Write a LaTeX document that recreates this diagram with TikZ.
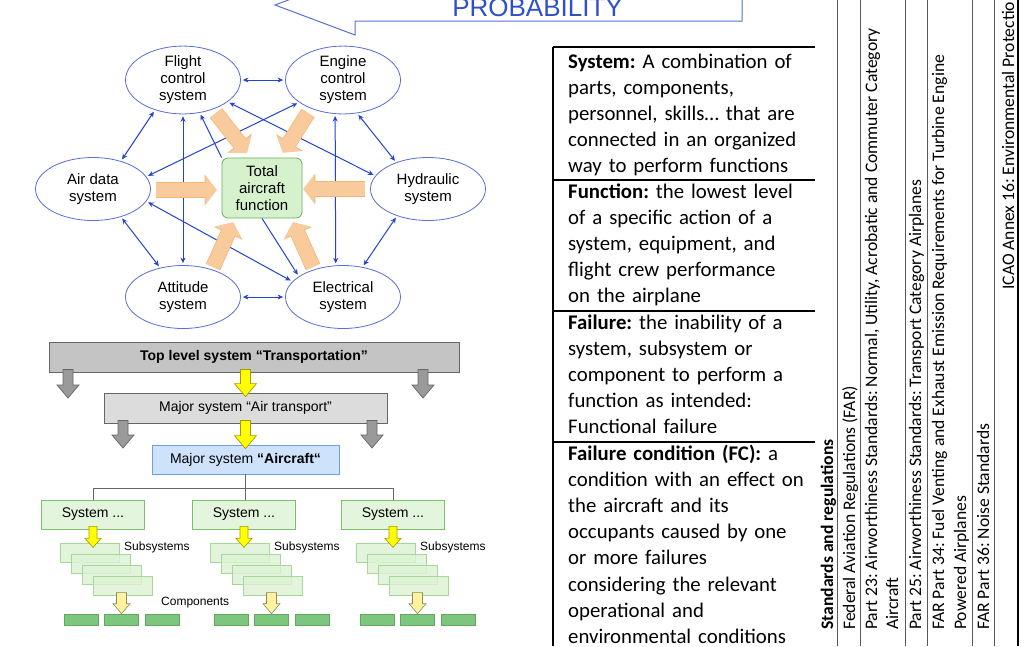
\documentclass[tikz,border=0pt]{standalone}
\usepackage{fontspec}
\setmainfont{Liberation Sans}
\newfontfamily\calibrifont{Carlito}
\usetikzlibrary{arrows.meta,positioning,calc,shapes.geometric}
\definecolor{SysBlue}{HTML}{2443D0}
\definecolor{EllBlue}{HTML}{5A6FD6}
\definecolor{TitleBlue}{HTML}{2F50C8}
\definecolor{FatOrange}{HTML}{F9CB9C}
\definecolor{FatEdge}{HTML}{F2B878}
\definecolor{TotGreen}{HTML}{D6F2CD}
\definecolor{TotEdge}{HTML}{6AAE5C}
\definecolor{BoxGreen}{HTML}{E4F5DE}
\definecolor{BoxEdge}{HTML}{7CC06C}
\definecolor{SubGreen}{HTML}{DDF2D5}
\definecolor{SubEdge}{HTML}{A6D898}
\definecolor{CompGreen}{HTML}{7DC67D}
\definecolor{CompEdge}{HTML}{62A862}
\definecolor{TopGray}{HTML}{C4C4C4}
\definecolor{MidGray}{HTML}{DCDCDC}
\definecolor{EdgeGray}{HTML}{666666}
\definecolor{ArrGray}{HTML}{9A9A9A}
\definecolor{AcBlue}{HTML}{CFE2FB}
\definecolor{AcEdge}{HTML}{6D9EEB}
\definecolor{Yel}{HTML}{FFFF00}
\definecolor{YelEdge}{HTML}{A89A00}
\definecolor{PaleYel}{HTML}{FFF3A0}
\definecolor{PaleEdge}{HTML}{8C8C5A}

\begin{document}
\begin{tikzpicture}[x=1pt,y=-1pt,
    >={Stealth[length=5.5pt,width=5pt]},
    sysell/.style={ellipse,draw=EllBlue,line width=0.8pt,minimum width=115pt,minimum height=63pt,
                   inner sep=0pt,align=center,font=\fontsize{15}{17}\selectfont},
    totbox/.style={draw=TotEdge,fill=TotGreen,rounded corners=6pt,line width=0.8pt,minimum width=80pt,
                   minimum height=60pt,inner sep=0pt,align=center,font=\fontsize{15}{17}\selectfont},
    link/.style={<->,draw=SysBlue,line width=1pt,shorten <=2pt,shorten >=2pt},
    onelink/.style={->,draw=SysBlue,line width=1pt,shorten >=2pt},
    fat/.style={-{Triangle[length=11pt,width=28pt]},draw=FatOrange,line width=14pt,
                preaction={draw=FatEdge,line width=15.6pt,-{Triangle[length=12pt,width=30.5pt]}}},
    lvlbox/.style={draw=EdgeGray,line width=0.8pt,minimum height=30pt,inner sep=0pt,font=\fontsize{14}{16}\selectfont},
    sysbox/.style={draw=BoxEdge,fill=BoxGreen,line width=0.8pt,minimum width=103pt,minimum height=29pt,
                   inner sep=0pt,font=\fontsize{14}{16}\selectfont},
    subbox/.style={draw=SubEdge,fill=SubGreen,fill opacity=0.8,line width=0.7pt,minimum width=59pt,
                   minimum height=18.5pt,inner sep=0pt},
    comp/.style={draw=CompEdge,fill=CompGreen,line width=0.6pt,minimum width=34pt,minimum height=11pt,inner sep=0pt},
    lbl/.style={anchor=west,inner sep=0pt,font=\fontsize{12}{14}\selectfont},
    tree/.style={draw=EdgeGray,line width=0.9pt},
    blockdown/.style n args={4}{to path={let \p1=(\tikztostart),\p2=(\tikztotarget) in
        (\x2-#1,\y1+3pt) -- (\x2+#1,\y1+3pt) -- (\x2+#1,\y2-#4+#3) -- (\x2+#2,\y2-#4+#3)
        -- (\x2,\y2-#4) -- (\x2-#2,\y2-#4+#3) -- (\x2-#1,\y2-#4+#3) -- cycle}},
    bigyel/.style={blockdown={5pt}{11pt}{13pt}{4pt},draw=YelEdge,fill=Yel,line width=0.7pt},
    biggray/.style={blockdown={5pt}{11pt}{13pt}{0pt},draw=EdgeGray,fill=ArrGray,line width=0.7pt},
    smallyel/.style={blockdown={4pt}{8pt}{9pt}{4pt},draw=YelEdge,fill=Yel,line width=0.6pt},
    paleyel/.style={blockdown={5pt}{8.5pt}{10pt}{0pt},draw=PaleEdge,fill=PaleYel,line width=0.6pt},
    deftext/.style={anchor=base west,inner sep=0pt,text width=260pt,align=left,
                    font=\calibrifont\fontsize{20.8}{26.2}\selectfont\frenchspacing},
    rule/.style={line width=1.3pt},
    rotrule/.style={draw=black!65,line width=0.8pt},
    rottext/.style={rotate=90,anchor=base west,inner sep=0pt,
                    font=\calibrifont\fontsize{17.6}{21}\selectfont\frenchspacing}
  ]
  \useasboundingbox (0,0) rectangle (1028,646);
  \clip (0,0) rectangle (1028,646);
  \fill[white] (0,0) rectangle (1028,646);

  % probability arrow
  \draw[TitleBlue!80,line width=1pt] (742,-11) -- (355,-11) -- (355,-25) -- (275,5) -- (355,35)
    -- (355,21) -- (742,21) -- cycle;
  \node[TitleBlue,anchor=base,inner sep=0pt,font=\fontsize{26}{26}\selectfont] (prob) at (537.5,16) {PROBABILITY};

  % system interaction diagram
  \node[sysell] (fcs) at (183,80) {Flight\\control\\system};
  \node[sysell] (ecs) at (343,80) {Engine\\control\\system};
  \node[sysell] (air) at (93,189) {Air data\\system};
  \node[sysell] (hyd) at (428,189) {Hydraulic\\system};
  \node[sysell] (att) at (183,297) {Attitude\\system};
  \node[sysell] (ele) at (343,297) {Electrical\\system};
  \node[totbox] (tot) at (262,188) {Total\\aircraft\\function};

  \draw[link] (fcs) -- (ecs);
  \draw[link] (att) -- (ele);
  \draw[link] (fcs.-133) -- (air.45);
  \draw[link] (air.-45) -- (att.128);
  \draw[link] (ecs.-67) -- (hyd.140);
  \draw[link] (hyd.-139) -- (ele.57);
  \draw[link] (fcs.south) -- (att.north);
  \draw[link] (ecs.-103) -- (ele.103);
  \draw[link] (fcs.-26) -- (hyd.166);
  \draw[link] (ecs.-153) -- (air.13);
  \draw[link] (air.-13) -- (ele.163);
  \draw[onelink] (tot.north west) -- (fcs.-63);
  \draw[onelink] (tot.south) -- (ele.155);

  \draw[fat] ($(fcs)+(33,33)$) -- ($(tot.north)+(-15,-5)$);
  \draw[fat] ($(ecs)+(-35,33)$) -- ($(tot.north)+(21,-5)$);
  \draw[fat] ($(air.east)+(5,1)$) -- ($(tot.west)+(-5,2)$);
  \draw[fat] ($(hyd.west)+(-5,0)$) -- ($(tot.east)+(1,1)$);
  \draw[fat] ($(att)+(30,-30)$) -- ($(tot.south)+(-29,4)$);
  \draw[fat] ($(ele)+(-30,-30)$) -- ($(tot.south)+(31,4)$);

  % system hierarchy
  \node[lvlbox,fill=TopGray,minimum width=410pt,font=\fontsize{14}{16}\selectfont\bfseries] (top) at (254,357)
    {Top level system “Transportation”};
  \node[lvlbox,fill=MidGray,minimum width=283pt] (airt) at (245.5,408) {Major system “Air transport”};
  \node[lvlbox,draw=AcEdge,fill=AcBlue,minimum width=187pt,minimum height=29pt] (ac) at (245.5,459.5)
    {Major system \textbf{“Aircraft“}};

  \coordinate (g1) at (68,398);
  \coordinate (g2) at (423,398);
  \coordinate (g3) at (123,448);
  \coordinate (g4) at (372,448);
  \draw[biggray] (top.south -| g1) to (g1);
  \draw[biggray] (top.south -| g2) to (g2);
  \draw[bigyel] (top.south) to (airt.north);
  \draw[biggray] (airt.south -| g3) to (g3);
  \draw[biggray] (airt.south -| g4) to (g4);
  \draw[bigyel] (airt.south) to (ac.north);

  \foreach \g/\gx/\sx in {1/0/93,2/150/244,3/296/393}{
    \node[sysbox] (s\g) at (\sx,514.5) {System ...};
    \foreach \i in {0,...,3}
      \node[subbox] (sub\g\i) at (89.5+\gx+11*\i,553+11*\i) {};
    \node[lbl] (sublbl\g) at (124+\gx,547) {Subsystems};
    \foreach \c/\cx in {1/81,2/121.5,3/162}
      \node[comp] (c\g\c) at (\cx+\gx,619.5) {};
    \draw[smallyel] (s\g.south) to (s\g.south |- sub\g0.north);
    \draw[paleyel] (sub\g3.south) to (c\g2.north);
  }
  \node[lbl] (complbl) at (161,603) {Components};

  \draw[tree] (ac.south) -- (ac.south |- s2.north);
  \draw[tree] (s1.north) -- ++(0,-11) -| (s3.north);

  % definitions table
  \draw[rule] (553,47) -- (553,646);
  \foreach \y in {47,180,311,442}
    \draw[rule] (553,\y) -- (815,\y);
  \node[deftext] (defsys) at (568,68) {\textbf{System:} A combination of\\parts, components,\\personnel, skills… that are\\connected in an organized\\way to perform functions};
  \node[deftext] (deffun) at (568,198) {\textbf{Function:} the lowest level\\of a specific action of a\\system, equipment, and\\flight crew performance\\on the airplane};
  \node[deftext] (deffail) at (568,329) {\textbf{Failure:} the inability of a\\system, subsystem or\\component to perform a\\function as intended:\\Functional failure};
  \node[deftext] (deffc) at (568,460) {\textbf{Failure condition (FC):} a\\condition with an effect on\\the aircraft and its\\occupants caused by one\\or more failures\\considering the relevant\\operational and\\environmental conditions};

  % standards table (rotated)
  \foreach \x in {837,860,905,927,972,994}
    \draw[rotrule] (\x,0) -- (\x,646);
  \draw[rule] (1018,0) -- (1018,646);
  \node[rottext] (stdhead) at (833,630) {\textbf{Standards and regulations}};
  \node[rottext] (far) at (855,630) {Federal Aviation Regulations (FAR)};
  \node[rottext] (p23a) at (877,630) {Part 23: Airworthiness Standards: Normal, Utility, Acrobatic and Commuter Category};
  \node[rottext] (p23b) at (898,630) {Aircraft};
  \node[rottext] (p25) at (921,630) {Part 25: Airworthiness Standards: Transport Category Airplanes};
  \node[rottext] (p34a) at (944,630) {FAR Part 34: Fuel Venting and Exhaust Emission Requirements for Turbine Engine};
  \node[rottext] (p34b) at (966,630) {Powered Airplanes};
  \node[rottext] (p36) at (989,630) {FAR Part 36: Noise Standards};
  \node[rottext] (icao) at (1014,290) {ICAO Annex 16: Environmental Protection};
\end{tikzpicture}
\end{document}
